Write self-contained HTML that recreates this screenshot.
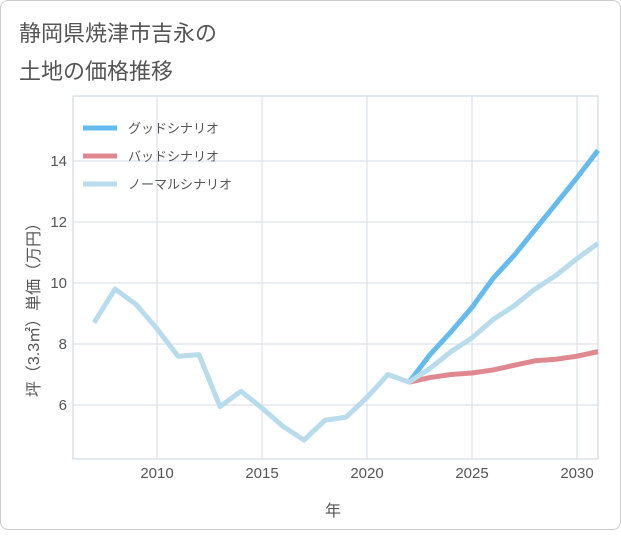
<!DOCTYPE html>
<html><head><meta charset="utf-8"><style>
body{margin:0;background:#fff;font-family:"Liberation Sans","Noto Sans CJK JP",sans-serif}
#c{position:absolute;left:0;top:0;width:619px;height:528px;border:1px solid #ccc;border-radius:8px;background:#fff}
</style></head><body>
<div id="c">
<svg width="621" height="530" id="s">
<text x="18" y="40" font-size="22" fill="#555">静岡県焼津市吉永の</text>
<text x="18" y="78" font-size="22" fill="#555">土地の価格推移</text>
<g id="grid"></g><g id="lines"></g><g id="axes"></g>
<text x="332" y="515" font-size="16" fill="#555" text-anchor="middle">年</text>
<text transform="translate(38,305) rotate(-90)" font-size="16" fill="#555" text-anchor="middle">坪（3.3㎡）単価（万円）</text>
</svg></div>
<script>
const years=[2007,2008,2009,2010,2011,2012,2013,2014,2015,2016,2017,2018,2019,2020,2021,2022,2023,2024,2025,2026,2027,2028,2029,2030,2031];
const normal=[8.7,9.8,9.3,8.5,7.6,7.65,5.95,6.45,5.9,5.3,4.85,5.5,5.6,6.25,7.0,6.75,7.2,7.75,8.2,8.8,9.25,9.8,10.25,10.8,11.3];
const futYears=[2022,2023,2024,2025,2026,2027,2028,2029,2030,2031];
const good=[6.75,7.65,8.4,9.2,10.15,10.9,11.75,12.6,13.45,14.35];
const bad=[6.75,6.9,7.0,7.05,7.15,7.3,7.45,7.5,7.6,7.75];
const xTicks=[2010,2015,2020,2025,2030];
const yTicks=[6,8,10,12,14];
const L=72,R=597,T=95,B=458;
const x=v=>L+(v-2006)*(R-L)/25;
const y=v=>404-(v-6)*30.5;
const NS="http://www.w3.org/2000/svg";
function mk(p,t,a){const e=document.createElementNS(NS,t);for(const k in a)e.setAttribute(k,a[k]);document.getElementById(p).appendChild(e);return e;}
const bg=mk('grid','rect',{x:L,y:T,width:R-L,height:B-T,fill:'#fff',stroke:'#c8d3dc'});


xTicks.forEach(t=>{const l=mk('grid','line',{x1:x(t),x2:x(t),y1:T,y2:B,stroke:'#d5dee6'});


const tx=mk('axes','text',{x:x(t),y:B+19,'font-size':15,fill:'#555','text-anchor':'middle'});tx.textContent=t;

});
yTicks.forEach(t=>{const l=mk('grid','line',{x1:L,x2:R,y1:y(t),y2:y(t),stroke:'#d5dee6'});


const tx=mk('axes','text',{x:L-6,y:y(t)+5,'font-size':15,fill:'#555','text-anchor':'end'});tx.textContent=t;

});
function line(xs,vs,c,n){const p=mk('lines','polyline',{points:xs.map((v,i)=>x(v)+','+y(vs[i])).join(' '),fill:'none',stroke:c,'stroke-width':5,'stroke-linejoin':'round'});

}
line(futYears,bad,'#e08890','bad-scenario-line');
line(futYears,good,'#66bbee','good-scenario-line');
line(years,normal,'#b8dcec','normal-scenario-line');
const leg=[['グッドシナリオ','#66bbee'],['バッドシナリオ','#e08890'],['ノーマルシナリオ','#b8dcec']];
leg.forEach((e,i)=>{const yy=127+i*28;const l=mk('axes','line',{x1:82,x2:116,y1:yy,y2:yy,stroke:e[1],'stroke-width':5});


const t=mk('axes','text',{x:127,y:yy+5,'font-size':13,fill:'#555'});t.textContent=e[0];

});
</script></body></html>
